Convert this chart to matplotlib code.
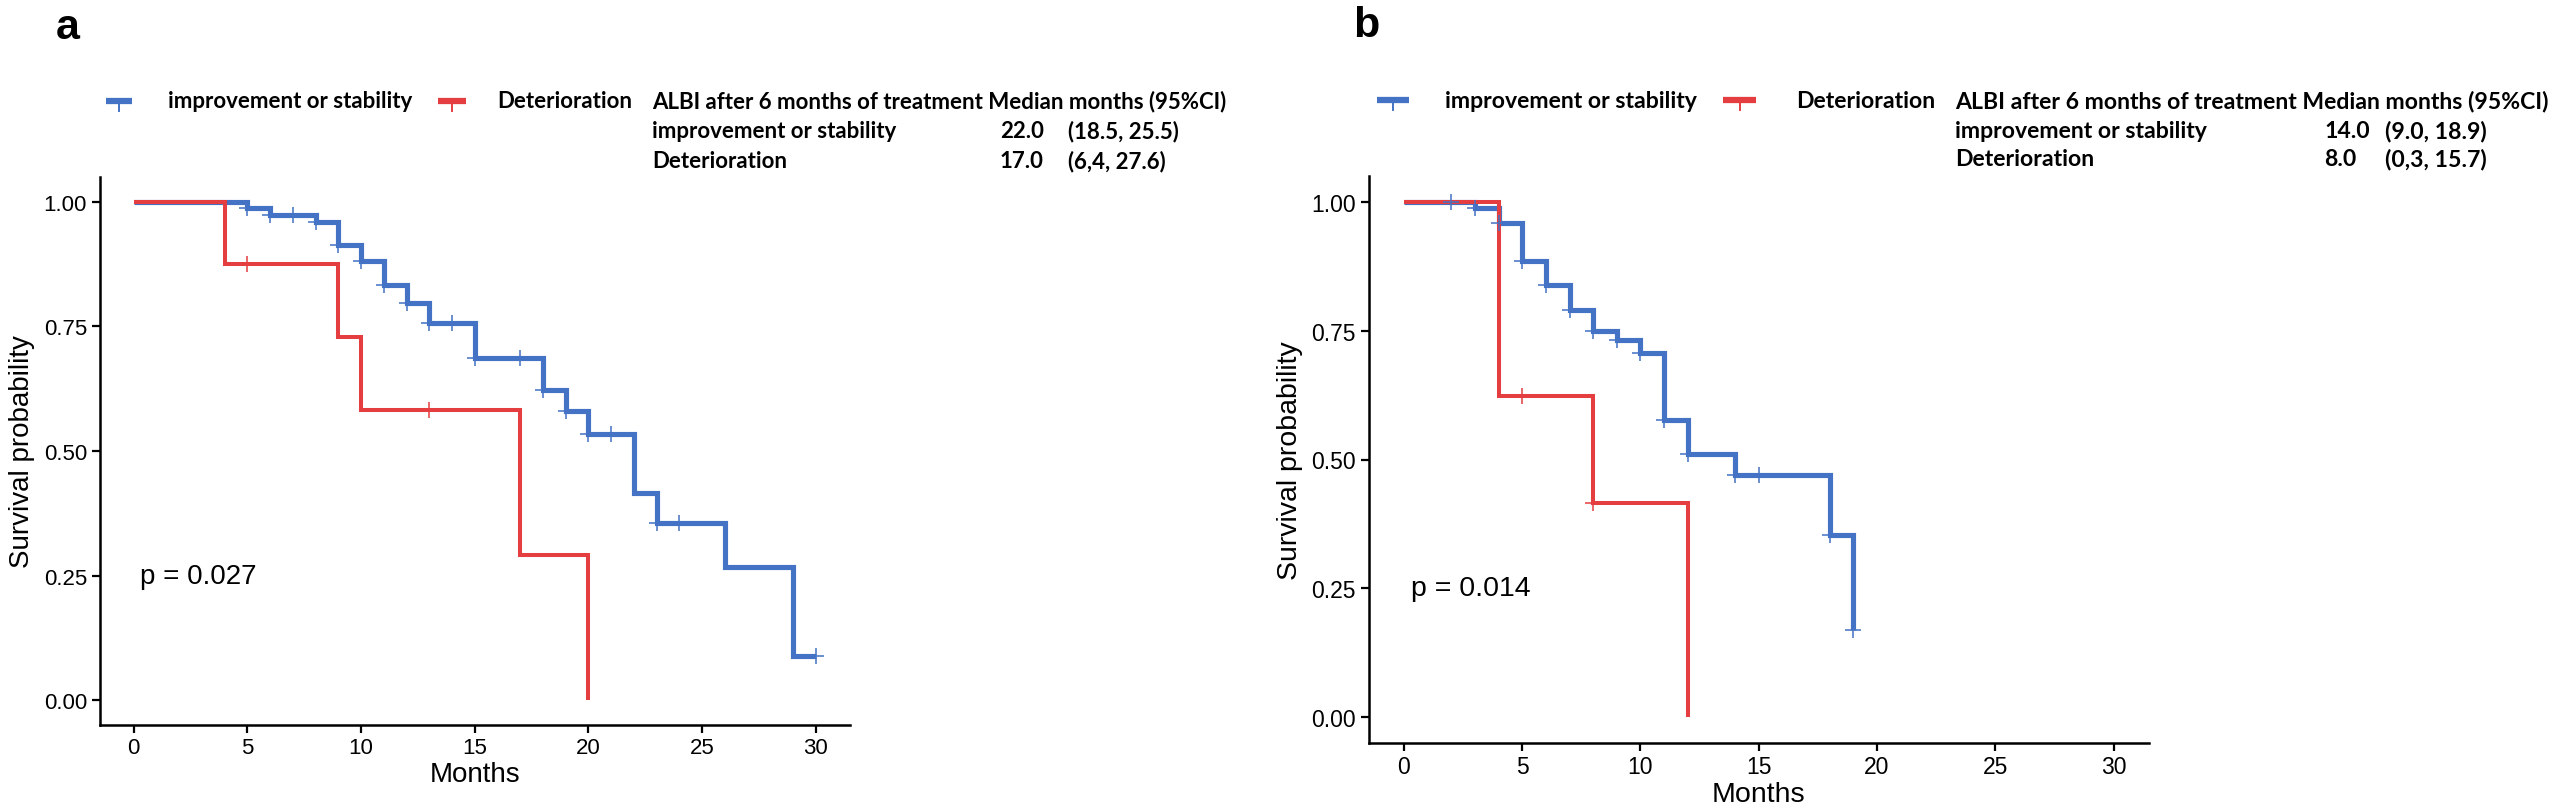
import numpy as np
import matplotlib
matplotlib.use("Agg")
import matplotlib.pyplot as plt
from matplotlib.lines import Line2D

# ---- data (Kaplan-Meier steps) ----
# panel a
a_imp_t = [0, 5, 6, 8, 9, 10, 11, 12, 13, 15, 18, 19, 20, 22, 23, 26, 29]
a_imp_s = [1.0, 0.987, 0.974, 0.960, 0.914, 0.881, 0.833, 0.797, 0.756, 0.686,
           0.622, 0.581, 0.535, 0.416, 0.355, 0.268, 0.088]
a_imp_end = 30
a_imp_cens = [5, 6, 7, 8, 9, 10, 11, 12, 13, 14, 15, 17, 18, 19, 20, 21, 23, 24, 30]

a_det_t = [0, 4, 9, 10, 17, 20]
a_det_s = [1.0, 0.875, 0.729, 0.583, 0.292, 0.0]
a_det_end = 20
a_det_cens = [5, 13]

# panel b
b_imp_t = [0, 3, 4, 5, 6, 7, 8, 9, 10, 11, 12, 14, 18, 19]
b_imp_s = [1.0, 0.987, 0.958, 0.886, 0.839, 0.790, 0.750, 0.731, 0.707, 0.577,
           0.511, 0.470, 0.353, 0.170]
b_imp_end = 19
b_imp_cens = [2, 3, 4, 5, 6, 7, 8, 9, 10, 11, 12, 14, 15, 18, 19]

b_det_t = [0, 4, 8, 12]
b_det_s = [1.0, 0.624, 0.415, 0.0]
b_det_end = 12
b_det_cens = [5, 8]

groups = ["improvement or stability", "Deterioration"]
header = "ALBI after 6 months of treatment Median months (95%CI)"
a_median = ["22.0", "17.0"]
a_ci = ["(18.5, 25.5)", "(6,4, 27.6)"]
b_median = ["14.0", "8.0"]
b_ci = ["(9.0, 18.9)", "(0,3, 15.7)"]
a_pval = "p = 0.027"
b_pval = "p = 0.014"

x_ticks = [0, 5, 10, 15, 20, 25, 30]
y_ticks = [0.0, 0.25, 0.5, 0.75, 1.0]
y_ticklabels = ["0.00", "0.25", "0.50", "0.75", "1.00"]

BLUE = "#4472C4"
RED = "#E53E41"

W, H = 2564, 812
fig = plt.figure(figsize=(W / 100, H / 100), dpi=100)
plt.rcParams["font.family"] = ["Liberation Sans", "DejaVu Sans"]
LEG_FONT = ["Lato", "DejaVu Sans"]


def fx(px):
    return px / W


def fy(py):
    return 1 - py / H


def km_curve(ax, t, s, end, cens, color, lw):
    t = list(t)
    s = list(s)
    if end > t[-1]:
        t = t + [end]
        s = s + [s[-1]]
    ax.step(t, s, where="post", color=color, lw=lw, solid_capstyle="butt",
            solid_joinstyle="miter", zorder=3)
    idx = np.searchsorted(np.array(t), np.array(cens), side="right") - 1
    cy = np.array(s)[idx]
    ax.plot(cens, cy, ls="none", marker="+", ms=11, mew=1.3, color=color,
            alpha=0.85, zorder=4)


def make_panel(left, right, top, bottom, curves, pval, tick_fs, lab_fs):
    ax = fig.add_axes([fx(left), fy(bottom), fx(right - left), (bottom - top) / H])
    for c in curves:
        km_curve(ax, *c)
    ax.set_xlim(-1.5, 31.5)
    ax.set_ylim(-0.05, 1.05)
    ax.set_xticks(x_ticks)
    ax.set_yticks(y_ticks)
    ax.set_yticklabels(y_ticklabels)
    for sp in ["top", "right"]:
        ax.spines[sp].set_visible(False)
    for sp in ["left", "bottom"]:
        ax.spines[sp].set_linewidth(1.8)
    ax.tick_params(width=1.6, length=6, labelsize=tick_fs, colors="black", pad=3)
    ax.set_xlabel("Months", fontsize=lab_fs, labelpad=2)
    ax.set_ylabel("Survival probability", fontsize=lab_fs, labelpad=6)
    ax.text(0.3, 0.25, pval, fontsize=lab_fs, ha="left", va="center")
    return ax


make_panel(99.5, 850, 178, 726,
           [(a_imp_t, a_imp_s, a_imp_end, a_imp_cens, BLUE, 3.7),
            (a_det_t, a_det_s, a_det_end, a_det_cens, RED, 2.9)],
           a_pval, 16, 20)
make_panel(1368.5, 2149, 177, 744,
           [(b_imp_t, b_imp_s, b_imp_end, b_imp_cens, BLUE, 3.7),
            (b_det_t, b_det_s, b_det_end, b_det_cens, RED, 2.9)],
           b_pval, 16.5, 20.5)


def legend_key(x0, x1, y, color):
    fig.add_artist(Line2D([fx(x0), fx(x1)], [fy(y), fy(y)], color=color, lw=4.5,
                          solid_capstyle="butt"))
    xm = (x0 + x1) / 2
    fig.add_artist(Line2D([fx(xm), fx(xm)], [fy(y), fy(y + 10)], color=color, lw=1.4))


def legend_block(keys, texts, head_x, col2, col3, rows_y, medians, cis, fs):
    y0 = rows_y[0]
    for (k0, k1), tx, col, g in zip(keys, texts, [BLUE, RED], groups):
        legend_key(k0, k1, y0, col)
        fig.text(fx(tx), fy(y0), g, fontsize=fs, fontweight="bold",
                 family=LEG_FONT, ha="left", va="center")
    fig.text(fx(head_x), fy(y0), header, fontsize=fs, fontweight="bold",
             family=LEG_FONT, ha="left", va="center")
    for y, g, m, ci in zip(rows_y[1:], groups, medians, cis):
        fig.text(fx(head_x), fy(y), g, fontsize=fs, fontweight="bold",
                 family=LEG_FONT, ha="left", va="center")
        fig.text(fx(col2), fy(y), m, fontsize=fs, fontweight="bold",
                 family=LEG_FONT, ha="left", va="center")
        fig.text(fx(col3), fy(y), ci, fontsize=fs, fontweight="bold",
                 family=LEG_FONT, ha="left", va="center")


legend_block([(106, 132), (438, 466)], [168, 497], 652, 1000, 1068,
             [102, 132, 162], a_median, a_ci, 16)
legend_block([(1377, 1409), (1723, 1756)], [1445, 1796], 1955, 2324, 2385,
             [101, 131, 160], b_median, b_ci, 16.6)

fig.text(fx(56), fy(8), "a", fontsize=31, fontweight="bold", ha="left", va="top")
fig.text(fx(1353), fy(6), "b", fontsize=31, fontweight="bold", ha="left", va="top")

fig.savefig("out.png", dpi=100, facecolor="white")
